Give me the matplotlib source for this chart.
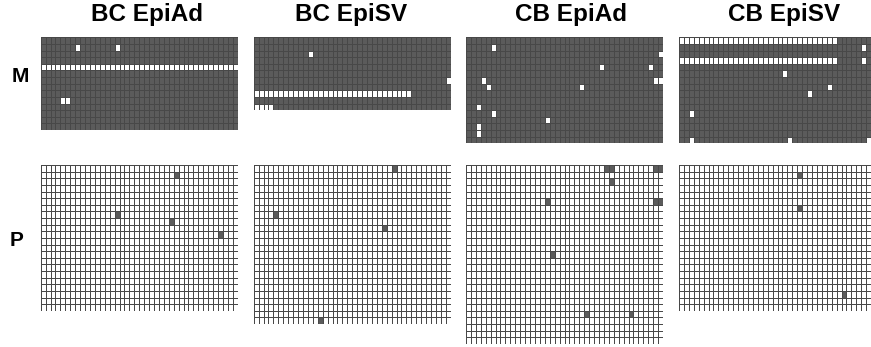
import numpy as np
import matplotlib
matplotlib.use("Agg")
import matplotlib.pyplot as plt
from matplotlib.colors import ListedColormap

plt.rcParams['font.family'] = ['Liberation Sans', 'DejaVu Sans']

n_sites = 40
samples = ["BC EpiAd", "BC EpiSV", "CB EpiAd", "CB EpiSV"]
m_clones = [14, 11, 16, 16]
p_clones = [22, 24, 27, 22]

# unmethylated runs on the M allele: (clone, first site, last site)
m_bc_epiad = [(1, 7, 7), (1, 15, 15), (4, 0, 39), (9, 4, 5)]
m_bc_episv = [(2, 11, 11), (6, 39, 39), (8, 0, 31), (10, 0, 3)]
m_cb_epiad = [(1, 5, 5), (2, 39, 39), (4, 27, 27), (4, 37, 37), (6, 3, 3),
              (6, 38, 39), (7, 4, 4), (7, 23, 23), (10, 2, 2), (11, 5, 5),
              (12, 16, 16), (13, 2, 2), (14, 2, 2)]
m_cb_episv = [(0, 0, 31), (1, 37, 37), (3, 0, 31), (3, 37, 37), (5, 21, 21),
              (7, 30, 30), (8, 26, 26), (11, 2, 2), (15, 2, 2), (15, 22, 22),
              (15, 38, 38)]

# methylated runs on the P allele
p_bc_epiad = [(1, 27, 27), (7, 15, 15), (8, 26, 26), (10, 36, 36)]
p_bc_episv = [(0, 28, 28), (7, 4, 4), (9, 26, 26), (23, 13, 13)]
p_cb_epiad = [(0, 28, 29), (0, 38, 39), (2, 29, 29), (5, 16, 16), (5, 38, 39),
              (13, 17, 17), (22, 24, 24), (22, 33, 33)]
p_cb_episv = [(1, 24, 24), (6, 24, 24), (19, 33, 33)]

m_runs = [m_bc_epiad, m_bc_episv, m_cb_epiad, m_cb_episv]
p_runs = [p_bc_epiad, p_bc_episv, p_cb_epiad, p_cb_episv]

W, H = 871, 347
fig = plt.figure(figsize=(W / 100, H / 100), dpi=100)

cmap = ListedColormap(['white', '#5b5b5b'])
lefts = [40.7, 253.7, 466.0, 679.0]
panel_w = 197.0
row_h = 6.63
m_top, p_top = 37.3, 165.0


def draw_grid(left, top, nrows, runs, base):
    grid = np.full((nrows, n_sites), base)
    for r, c0, c1 in runs:
        grid[r, c0:c1 + 1] = 1 - base
    h = nrows * row_h
    ax = fig.add_axes([left / W, 1 - (top + h) / H, panel_w / W, h / H])
    ax.pcolormesh(grid, cmap=cmap, vmin=0, vmax=1,
                  edgecolors='#484848', linewidth=0.45)
    ax.set_xlim(0, n_sites)
    ax.set_ylim(nrows, 0)
    ax.axis('off')
    return ax


for i, name in enumerate(samples):
    draw_grid(lefts[i], m_top, m_clones[i], m_runs[i], 1)
    draw_grid(lefts[i], p_top, p_clones[i], p_runs[i], 0)

title_x = [147, 351, 571, 784]
for x, name in zip(title_x, samples):
    fig.text(x / W, 1 - 21 / H, name, ha='center', va='baseline',
             fontsize=17.5, fontweight='bold')

fig.text(20 / W, 1 - 76 / H, "M", ha='center', va='center',
         fontsize=15, fontweight='bold')
fig.text(17 / W, 1 - 241 / H, "P", ha='center', va='center',
         fontsize=15, fontweight='bold')

fig.savefig("out.png", dpi=100)
